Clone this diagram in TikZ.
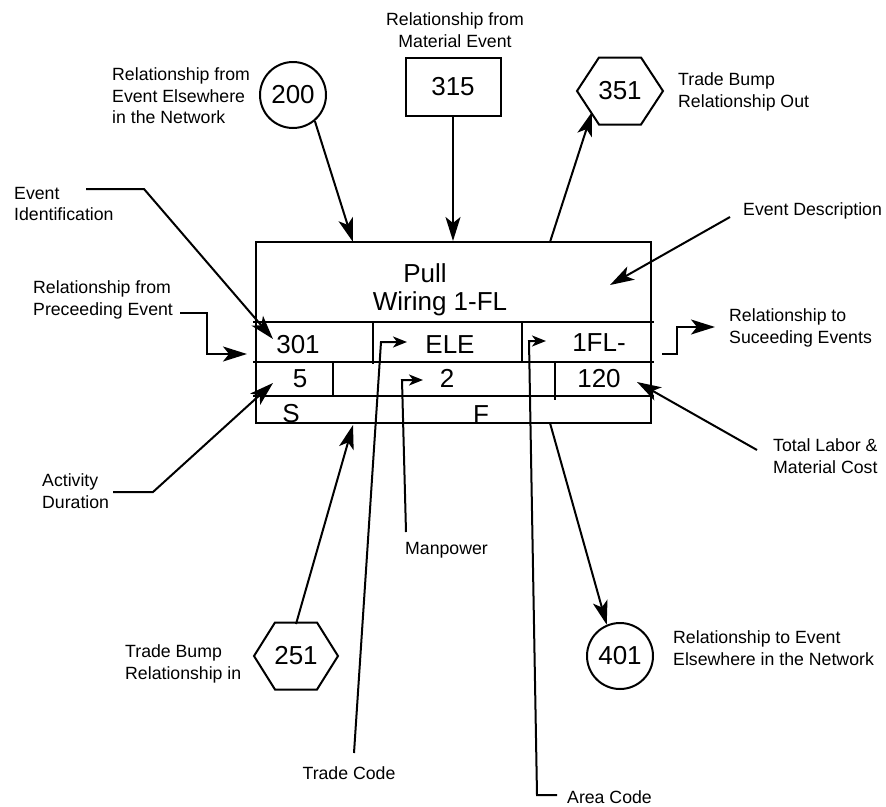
\documentclass[tikz,border=0pt]{standalone}
\usepackage{fontspec}
\setmainfont{Liberation Sans}
\usetikzlibrary{arrows.meta,calc}
\begin{document}
\begin{tikzpicture}[x=1pt,y=-1pt,
  lw/.style={line width=2pt},
  big/.style={lw,-{Stealth[length=24pt,width=15pt,inset=6pt]}},
  small/.style={lw,-{Stealth[length=14pt,width=11pt,inset=4pt]}},
  lbl/.style={inner sep=0pt,font=\fontsize{17.7}{21.5}\selectfont,align=left},
  num/.style={inner sep=0pt,font=\fontsize{26}{28}\selectfont},
  circ/.style={num,circle,draw,lw,minimum size=66pt},
]
\useasboundingbox (0,0) rectangle (886,806);

% main event box
\node[draw,lw,minimum width=395pt,minimum height=181pt,inner sep=0pt] (box) at (453.5,332.5) {};
\draw[lw] (253,322) -- (654,322);
\draw[lw] (253,362) -- (654,362);
\draw[lw] (253,396) -- (654,396);
\draw[lw] (373,322) -- (373,364);
\draw[lw] (522,322) -- (522,362);
\draw[lw] (333,362) -- (333,397);
\draw[lw] (555,362) -- (555,400);

\node[num,anchor=base] (tPull) at (425,282) {Pull};
\node[num,anchor=base] (tWiring) at (440,310) {Wiring 1-FL};
\node[num,anchor=base] (t301) at (298,353) {301};
\node[num,anchor=base] (tELE) at (450,353) {ELE};
\node[num,anchor=base] (t1FL) at (599,351) {1FL-};
\node[num,anchor=base] (t5) at (300,387) {5};
\node[num,anchor=base] (t2) at (447,387) {2};
\node[num,anchor=base] (t120) at (599,387) {120};
\node[num,anchor=base] (tS) at (291,422) {S};
\node[num,anchor=base] (tF) at (481,423) {F};

% outer events
\node[circ] (c200) at (293,95) {200};
\node[num,draw,lw,minimum width=95pt,minimum height=58pt] (r315) at (453,87) {315};
\node[num] (h351) at (620,91) {351};
\draw[lw,shift={(h351.center)}] (-43,0) -- (-21,-33.5) -- (21,-33.5) -- (43,0) -- (21,33.5) -- (-21,33.5) -- cycle;
\node[num] (h251) at (296,656) {251};
\draw[lw,shift={(h251.center)}] (-42,0) -- (-21,-33.5) -- (21,-33.5) -- (42,0) -- (21,33.5) -- (-21,33.5) -- cycle;
\node[circ] (c401) at (620,656) {401};

% labels
\node[lbl,anchor=west] (l200) at (112,96) {Relationship from\\Event Elsewhere\\in the Network};
\node[lbl,align=center] (l315) at (455,30) {Relationship from\\Material Event};
\node[lbl,anchor=west] (l351) at (678,92) {Trade Bump\\Relationship Out};
\node[lbl,anchor=west] (lDesc) at (743,211) {Event Description};
\node[lbl,anchor=west] (lEvId) at (14,204) {Event\\Identification};
\node[lbl,anchor=west] (lPrec) at (33,300) {Relationship from\\Preceeding Event};
\node[lbl,anchor=west] (lSucc) at (729,328) {Relationship to\\Suceeding Events};
\node[lbl,anchor=west] (lCost) at (773,456) {Total Labor \&\\Material Cost};
\node[lbl,anchor=west] (lDur) at (42,491) {Activity\\Duration};
\node[lbl,anchor=west] (lMan) at (405,550) {Manpower};
\node[lbl,anchor=west] (l251) at (125,664) {Trade Bump\\Relationship in};
\node[lbl,anchor=west] (l401) at (673,648) {Relationship to Event\\Elsewhere in the Network};
\node[lbl] (lTrade) at (349,773) {Trade Code};
\node[lbl,anchor=west] (lArea) at (567,797) {Area Code};

% attachment coordinates
\coordinate (in200) at (353,242);
\coordinate (out351) at (550,242);
\coordinate (tip351) at (592,112);
\coordinate (descA) at (730,217);
\coordinate (descB) at (610,285);
\coordinate (succA) at (662,354);
\coordinate (succB) at (677,354);
\coordinate (succC) at (677,327);
\coordinate (succD) at (715,327);
\coordinate (costA) at (757,450);
\coordinate (costB) at (637,382);
\coordinate (out401) at (550,423);
\coordinate (areaA) at (557,795);
\coordinate (areaB) at (537,795);
\coordinate (areaC) at (529,341);
\coordinate (areaD) at (546,341);
\coordinate (tradeA) at (354,753);
\coordinate (tradeB) at (381,342);
\coordinate (tradeC) at (407,342);
\coordinate (manA) at (406,532);
\coordinate (manB) at (402,380);
\coordinate (manC) at (423,380);
\coordinate (in251) at (353,425);
\coordinate (durA) at (113,492);
\coordinate (durB) at (153,492);
\coordinate (durC) at (273,383);
\coordinate (idA) at (86,189);
\coordinate (idB) at (144,189);
\coordinate (idC) at (273,339);
\coordinate (precA) at (180,313);
\coordinate (precB) at (207,313);
\coordinate (precC) at (207,354);
\coordinate (precD) at (247,354);

% connectors
\draw[big] (c200.-50) -- (in200);
\draw[big] (r315.south) -- (r315.south |- box.north);
\draw[big] (out351) -- (tip351);
\draw[big] (descA) -- (descB);
\draw[big] (succA) -- (succB) -- (succC) -- (succD);
\draw[big] (costA) -- (costB);
\draw[big] (out401) -- (c401.113);
\draw[small] (areaA) -- (areaB) -- (areaC) -- (areaD);
\draw[small] (tradeA) -- (tradeB) -- (tradeC);
\draw[small] (manA) -- (manB) -- (manC);
\draw[big] (h251.north |- 0,624) -- (in251);
\draw[big] (durA) -- (durB) -- (durC);
\draw[big] (idA) -- (idB) -- (idC);
\draw[big] (precA) -- (precB) -- (precC) -- (precD);
\end{tikzpicture}
\end{document}
